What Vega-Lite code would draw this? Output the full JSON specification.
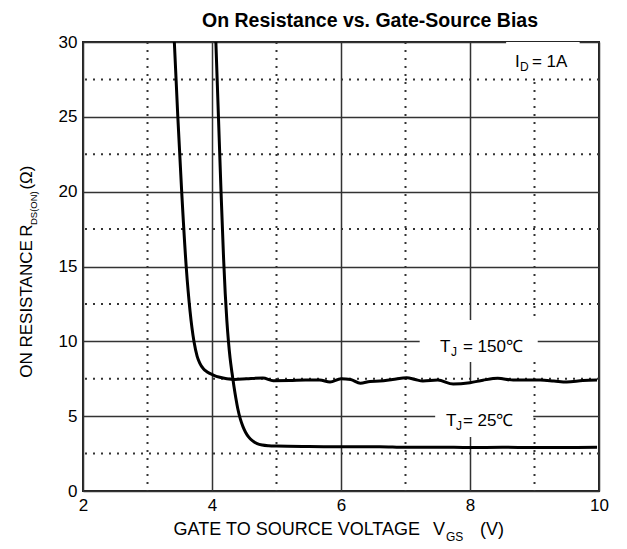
{
  "$schema": "https://vega.github.io/schema/vega-lite/v6.json",
  "autosize": "none",
  "padding": {"left": 83, "top": 42, "right": 28, "bottom": 58},
  "width": 516,
  "height": 449,
  "datasets": {
    "curves": [
      {"series": "150C", "vgs": 3.416, "r": 30},
      {"series": "150C", "vgs": 3.47, "r": 25},
      {"series": "150C", "vgs": 3.53, "r": 20},
      {"series": "150C", "vgs": 3.60, "r": 15},
      {"series": "150C", "vgs": 3.66, "r": 12},
      {"series": "150C", "vgs": 3.72, "r": 10},
      {"series": "150C", "vgs": 3.77, "r": 9.0},
      {"series": "150C", "vgs": 3.81, "r": 8.55},
      {"series": "150C", "vgs": 3.87, "r": 8.15},
      {"series": "150C", "vgs": 3.92, "r": 7.97},
      {"series": "150C", "vgs": 4.02, "r": 7.75},
      {"series": "150C", "vgs": 4.12, "r": 7.6},
      {"series": "150C", "vgs": 4.23, "r": 7.5},
      {"series": "150C", "vgs": 4.35, "r": 7.45},
      {"series": "150C", "vgs": 4.54, "r": 7.5},
      {"series": "150C", "vgs": 4.79, "r": 7.55},
      {"series": "150C", "vgs": 4.95, "r": 7.37},
      {"series": "150C", "vgs": 5.2, "r": 7.38},
      {"series": "150C", "vgs": 5.45, "r": 7.42},
      {"series": "150C", "vgs": 5.67, "r": 7.41},
      {"series": "150C", "vgs": 5.83, "r": 7.28},
      {"series": "150C", "vgs": 6.0, "r": 7.5},
      {"series": "150C", "vgs": 6.15, "r": 7.45},
      {"series": "150C", "vgs": 6.3, "r": 7.2},
      {"series": "150C", "vgs": 6.45, "r": 7.32},
      {"series": "150C", "vgs": 6.6, "r": 7.35},
      {"series": "150C", "vgs": 6.8, "r": 7.45},
      {"series": "150C", "vgs": 7.02, "r": 7.57},
      {"series": "150C", "vgs": 7.15, "r": 7.45},
      {"series": "150C", "vgs": 7.27, "r": 7.35},
      {"series": "150C", "vgs": 7.5, "r": 7.41},
      {"series": "150C", "vgs": 7.74, "r": 7.15},
      {"series": "150C", "vgs": 8.0, "r": 7.24},
      {"series": "150C", "vgs": 8.2, "r": 7.4},
      {"series": "150C", "vgs": 8.43, "r": 7.53},
      {"series": "150C", "vgs": 8.67, "r": 7.41},
      {"series": "150C", "vgs": 9.09, "r": 7.41},
      {"series": "150C", "vgs": 9.3, "r": 7.35},
      {"series": "150C", "vgs": 9.5, "r": 7.28},
      {"series": "150C", "vgs": 9.75, "r": 7.38},
      {"series": "150C", "vgs": 9.97, "r": 7.41},
      {"series": "25C", "vgs": 4.06, "r": 30},
      {"series": "25C", "vgs": 4.10, "r": 25},
      {"series": "25C", "vgs": 4.14, "r": 20},
      {"series": "25C", "vgs": 4.18, "r": 15.5},
      {"series": "25C", "vgs": 4.205, "r": 13.2},
      {"series": "25C", "vgs": 4.23, "r": 11.4},
      {"series": "25C", "vgs": 4.255, "r": 10.0},
      {"series": "25C", "vgs": 4.28, "r": 8.9},
      {"series": "25C", "vgs": 4.31, "r": 7.9},
      {"series": "25C", "vgs": 4.34, "r": 7.0},
      {"series": "25C", "vgs": 4.37, "r": 6.2},
      {"series": "25C", "vgs": 4.40, "r": 5.5},
      {"series": "25C", "vgs": 4.44, "r": 4.8},
      {"series": "25C", "vgs": 4.48, "r": 4.3},
      {"series": "25C", "vgs": 4.52, "r": 3.93},
      {"series": "25C", "vgs": 4.57, "r": 3.6},
      {"series": "25C", "vgs": 4.63, "r": 3.35},
      {"series": "25C", "vgs": 4.70, "r": 3.17},
      {"series": "25C", "vgs": 4.78, "r": 3.07},
      {"series": "25C", "vgs": 4.88, "r": 3.02},
      {"series": "25C", "vgs": 5.0, "r": 3.0},
      {"series": "25C", "vgs": 5.5, "r": 2.97},
      {"series": "25C", "vgs": 5.83, "r": 2.96},
      {"series": "25C", "vgs": 6.2, "r": 2.95},
      {"series": "25C", "vgs": 6.6, "r": 2.96},
      {"series": "25C", "vgs": 7.0, "r": 2.92},
      {"series": "25C", "vgs": 7.5, "r": 2.93},
      {"series": "25C", "vgs": 8.0, "r": 2.9},
      {"series": "25C", "vgs": 8.5, "r": 2.92},
      {"series": "25C", "vgs": 9.0, "r": 2.9},
      {"series": "25C", "vgs": 9.5, "r": 2.91},
      {"series": "25C", "vgs": 9.97, "r": 2.92}
    ],
    "vminor": [{"v": 3}, {"v": 5}, {"v": 7}, {"v": 9}],
    "hminor": [{"v": 2.5}, {"v": 7.5}, {"v": 12.5}, {"v": 17.5}, {"v": 22.5}, {"v": 27.5}],
    "boxes": [
      {"x1": 7.22, "x2": 9.05, "y1": 8.62, "y2": 11.42},
      {"x1": 7.46, "x2": 8.98, "y1": 3.61, "y2": 7.21},
      {"x1": 8.56, "x2": 9.7, "y1": 27.7, "y2": 30}
    ],
    "bigtext": [
      {"x": 7.535, "y": 9.29, "t": "T"},
      {"x": 7.89, "y": 9.29, "t": "= 150℃"},
      {"x": 7.628, "y": 4.34, "t": "T"},
      {"x": 7.89, "y": 4.34, "t": "= 25℃"},
      {"x": 8.698, "y": 28.32, "t": "I"},
      {"x": 8.96, "y": 28.32, "t": "= 1A"}
    ],
    "subtext": [
      {"x": 7.705, "y": 9.02, "t": "J"},
      {"x": 7.783, "y": 4.07, "t": "J"},
      {"x": 8.775, "y": 28.06, "t": "D"}
    ],
    "xtitle": [
      {"x": 7.225, "y": -2.94, "t": "GATE TO SOURCE VOLTAGE", "a": "right"},
      {"x": 7.426, "y": -2.94, "t": "V", "a": "left"},
      {"x": 8.155, "y": -2.94, "t": "(V)", "a": "left"}
    ],
    "xsub": [{"x": 7.628, "y": -3.34, "t": "GS"}],
    "ybig": [
      {"x": 1.132, "y": 12.16, "t": "ON RESISTANCE"},
      {"x": 1.132, "y": 17.4, "t": "R"},
      {"x": 1.132, "y": 20.94, "t": "(Ω)"}
    ],
    "ysub": [{"x": 1.24, "y": 18.9, "t": "DS(ON)"}],
    "titletext": [{"x": 6.45, "y": 31.0, "t": "On Resistance vs. Gate-Source Bias"}]
  },
  "layer": [
    {
      "data": {"name": "vminor"},
      "mark": {"type": "rule", "color": "#333", "strokeWidth": 2, "strokeDash": [2, 6]},
      "encoding": {
        "x": {"field": "v", "type": "quantitative", "scale": {"domain": [2, 10], "nice": false, "zero": false},
              "axis": {"values": [2, 4, 6, 8, 10], "title": null, "format": "d"}}
      }
    },
    {
      "data": {"name": "hminor"},
      "mark": {"type": "rule", "color": "#333", "strokeWidth": 2, "strokeDash": [2, 6]},
      "encoding": {
        "y": {"field": "v", "type": "quantitative", "scale": {"domain": [0, 30], "nice": false},
              "axis": {"values": [0, 5, 10, 15, 20, 25, 30], "title": null, "format": "d"}}
      }
    },
    {
      "data": {"name": "boxes"},
      "mark": {"type": "rect", "color": "white"},
      "encoding": {
        "x": {"field": "x1", "type": "quantitative"},
        "x2": {"field": "x2"},
        "y": {"field": "y1", "type": "quantitative"},
        "y2": {"field": "y2"}
      }
    },
    {
      "data": {"name": "curves"},
      "mark": {"type": "line", "color": "black", "strokeWidth": 3, "interpolate": "monotone", "clip": true},
      "encoding": {
        "x": {"field": "vgs", "type": "quantitative"},
        "y": {"field": "r", "type": "quantitative"},
        "detail": {"field": "series"}
      }
    },
    {
      "data": {"name": "bigtext"},
      "mark": {"type": "text", "align": "left", "baseline": "alphabetic", "fontSize": 17, "color": "black"},
      "encoding": {
        "x": {"field": "x", "type": "quantitative"},
        "y": {"field": "y", "type": "quantitative"},
        "text": {"field": "t"}
      }
    },
    {
      "data": {"name": "subtext"},
      "mark": {"type": "text", "align": "left", "baseline": "alphabetic", "fontSize": 12, "color": "black"},
      "encoding": {
        "x": {"field": "x", "type": "quantitative"},
        "y": {"field": "y", "type": "quantitative"},
        "text": {"field": "t"}
      }
    },
    {
      "data": {"name": "xtitle"},
      "transform": [{"filter": "datum.a == 'right'"}],
      "mark": {"type": "text", "align": "right", "baseline": "alphabetic", "fontSize": 18, "color": "black"},
      "encoding": {
        "x": {"field": "x", "type": "quantitative"},
        "y": {"field": "y", "type": "quantitative"},
        "text": {"field": "t"}
      }
    },
    {
      "data": {"name": "xtitle"},
      "transform": [{"filter": "datum.a == 'left'"}],
      "mark": {"type": "text", "align": "left", "baseline": "alphabetic", "fontSize": 18, "color": "black"},
      "encoding": {
        "x": {"field": "x", "type": "quantitative"},
        "y": {"field": "y", "type": "quantitative"},
        "text": {"field": "t"}
      }
    },
    {
      "data": {"name": "xsub"},
      "mark": {"type": "text", "align": "left", "baseline": "alphabetic", "fontSize": 12, "color": "black"},
      "encoding": {
        "x": {"field": "x", "type": "quantitative"},
        "y": {"field": "y", "type": "quantitative"},
        "text": {"field": "t"}
      }
    },
    {
      "data": {"name": "ybig"},
      "mark": {"type": "text", "align": "center", "baseline": "middle", "angle": 270, "fontSize": 17, "color": "black"},
      "encoding": {
        "x": {"field": "x", "type": "quantitative"},
        "y": {"field": "y", "type": "quantitative"},
        "text": {"field": "t"}
      }
    },
    {
      "data": {"name": "ysub"},
      "mark": {"type": "text", "align": "center", "baseline": "middle", "angle": 270, "fontSize": 9.5, "color": "black"},
      "encoding": {
        "x": {"field": "x", "type": "quantitative"},
        "y": {"field": "y", "type": "quantitative"},
        "text": {"field": "t"}
      }
    },
    {
      "data": {"name": "titletext"},
      "mark": {"type": "text", "align": "center", "baseline": "alphabetic", "fontSize": 19.5, "fontWeight": "bold", "color": "black"},
      "encoding": {
        "x": {"field": "x", "type": "quantitative"},
        "y": {"field": "y", "type": "quantitative"},
        "text": {"field": "t"}
      }
    }
  ],
  "config": {
    "font": "Liberation Sans",
    "view": {"stroke": "#222", "strokeWidth": 2},
    "axis": {
      "grid": true, "gridColor": "#333", "gridWidth": 1.5, "gridOpacity": 1,
      "ticks": false, "domain": false,
      "labelFont": "Liberation Sans", "labelFontSize": 17, "labelColor": "#000",
      "labelFlush": false, "labelOverlap": false, "labelPadding": 6
    }
  }
}
